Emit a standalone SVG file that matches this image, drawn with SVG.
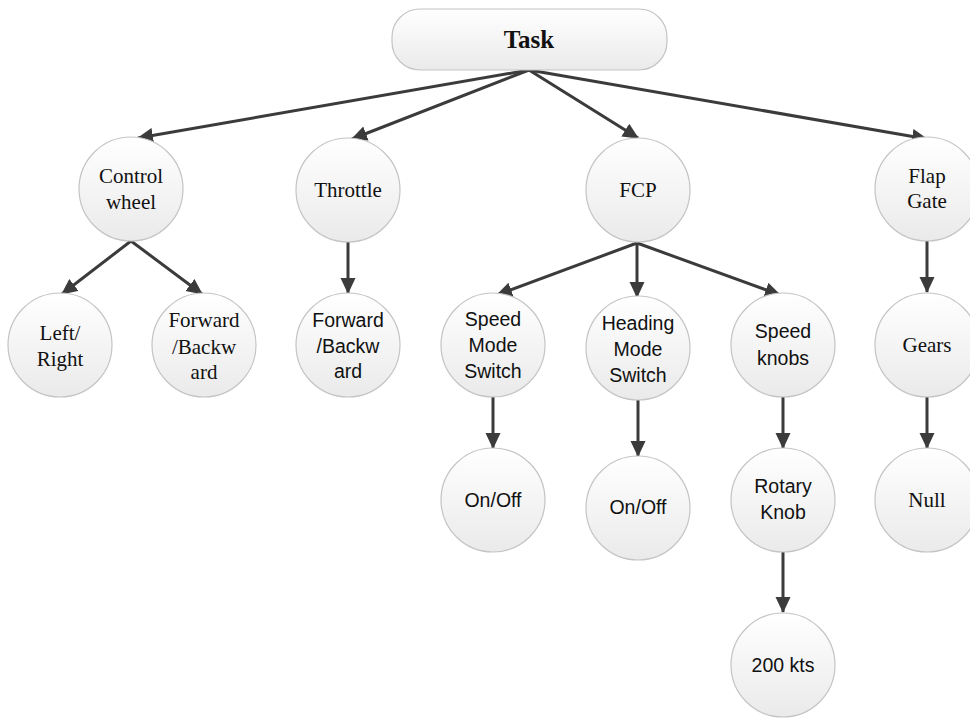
<svg xmlns="http://www.w3.org/2000/svg" width="970" height="720" viewBox="0 0 970 720">
<style>
.n{fill:url(#g);stroke:#c4c4c4;stroke-width:1.2}
.s{font-family:"Liberation Serif","Times New Roman",serif;font-size:21px;fill:#111;text-anchor:middle}
.a{font-family:"Liberation Sans",Arial,sans-serif;font-size:19.5px;fill:#111;text-anchor:middle}
.e{stroke:#3b3b3b;stroke-width:3;fill:none;marker-end:url(#ah)}
</style>
<defs>
<linearGradient id="g" x1="0" y1="0" x2="0" y2="1">
<stop offset="0" stop-color="#ffffff"/>
<stop offset="1" stop-color="#eaeaea"/>
</linearGradient>
<marker id="ah" markerUnits="userSpaceOnUse" markerWidth="18" markerHeight="16" refX="15" refY="7.5" orient="auto">
<path d="M0,0 L16,7.5 L0,15 Z" fill="#3b3b3b"/>
</marker>
</defs>
<rect width="970" height="720" fill="#fff"/>
<g id="connectors">
<line class="e" x1="529" y1="70" x2="138" y2="138"/>
<line class="e" x1="529" y1="70" x2="352" y2="139"/>
<line class="e" x1="529" y1="70" x2="638" y2="138"/>
<line class="e" x1="529" y1="70" x2="927" y2="139"/>
<line class="e" x1="131" y1="241" x2="62" y2="294"/>
<line class="e" x1="131" y1="241" x2="202" y2="294"/>
<line class="e" x1="348" y1="241" x2="348" y2="293"/>
<line class="e" x1="637" y1="243" x2="497" y2="295"/>
<line class="e" x1="637" y1="243" x2="637" y2="297"/>
<line class="e" x1="637" y1="243" x2="780" y2="295"/>
<line class="e" x1="493" y1="397" x2="493" y2="448"/>
<line class="e" x1="638" y1="400" x2="638" y2="456"/>
<line class="e" x1="783" y1="397" x2="783" y2="448"/>
<line class="e" x1="783" y1="552" x2="783" y2="612"/>
<line class="e" x1="927" y1="241" x2="927" y2="292"/>
<line class="e" x1="927" y1="397" x2="927" y2="448"/>
</g>
<g id="task">
<rect class="n" x="392" y="9" width="275" height="61" rx="28"/>
<text class="s" x="529" y="48" style="font-weight:bold;font-size:25px">Task</text>
</g>
<g id="control-wheel">
<circle class="n" cx="131" cy="189" r="52"/>
<text class="s" x="131" y="183">Control</text>
<text class="s" x="131" y="209">wheel</text>
</g>
<g id="throttle">
<circle class="n" cx="348" cy="190" r="52"/>
<text class="s" x="348" y="197">Throttle</text>
</g>
<g id="fcp">
<circle class="n" cx="638" cy="190" r="52"/>
<text class="s" x="638" y="197">FCP</text>
</g>
<g id="flap-gate">
<circle class="n" cx="927" cy="189" r="52"/>
<text class="s" x="927" y="183">Flap</text>
<text class="s" x="927" y="208">Gate</text>
</g>
<g id="left-right">
<circle class="n" cx="60" cy="345" r="52"/>
<text class="s" x="60" y="340">Left/</text>
<text class="s" x="60" y="366">Right</text>
</g>
<g id="cw-forward-backward">
<circle class="n" cx="204" cy="345" r="52"/>
<text class="s" x="204" y="327">Forward</text>
<text class="s" x="204" y="354">/Backw</text>
<text class="s" x="204" y="379">ard</text>
</g>
<g id="throttle-forward-backward">
<circle class="n" cx="348" cy="345" r="52"/>
<text class="a" x="348" y="327">Forward</text>
<text class="a" x="348" y="353">/Backw</text>
<text class="a" x="348" y="378">ard</text>
</g>
<g id="speed-mode-switch">
<circle class="n" cx="493" cy="345" r="52"/>
<text class="a" x="493" y="326">Speed</text>
<text class="a" x="493" y="352">Mode</text>
<text class="a" x="493" y="378">Switch</text>
</g>
<g id="heading-mode-switch">
<circle class="n" cx="638" cy="348" r="52"/>
<text class="a" x="638" y="330">Heading</text>
<text class="a" x="638" y="356">Mode</text>
<text class="a" x="638" y="382">Switch</text>
</g>
<g id="speed-knobs">
<circle class="n" cx="783" cy="345" r="52"/>
<text class="a" x="783" y="338">Speed</text>
<text class="a" x="783" y="365">knobs</text>
</g>
<g id="gears">
<circle class="n" cx="927" cy="345" r="52"/>
<text class="s" x="927" y="352">Gears</text>
</g>
<g id="on-off-1">
<circle class="n" cx="493" cy="500" r="52"/>
<text class="a" x="493" y="507">On/Off</text>
</g>
<g id="on-off-2">
<circle class="n" cx="638" cy="508" r="52"/>
<text class="a" x="638" y="514">On/Off</text>
</g>
<g id="rotary-knob">
<circle class="n" cx="783" cy="500" r="52"/>
<text class="a" x="783" y="493">Rotary</text>
<text class="a" x="783" y="519">Knob</text>
</g>
<g id="null">
<circle class="n" cx="927" cy="500" r="52"/>
<text class="s" x="927" y="507">Null</text>
</g>
<g id="kts-200">
<circle class="n" cx="783" cy="665" r="52"/>
<text class="a" x="783" y="672">200 kts</text>
</g>
</svg>
